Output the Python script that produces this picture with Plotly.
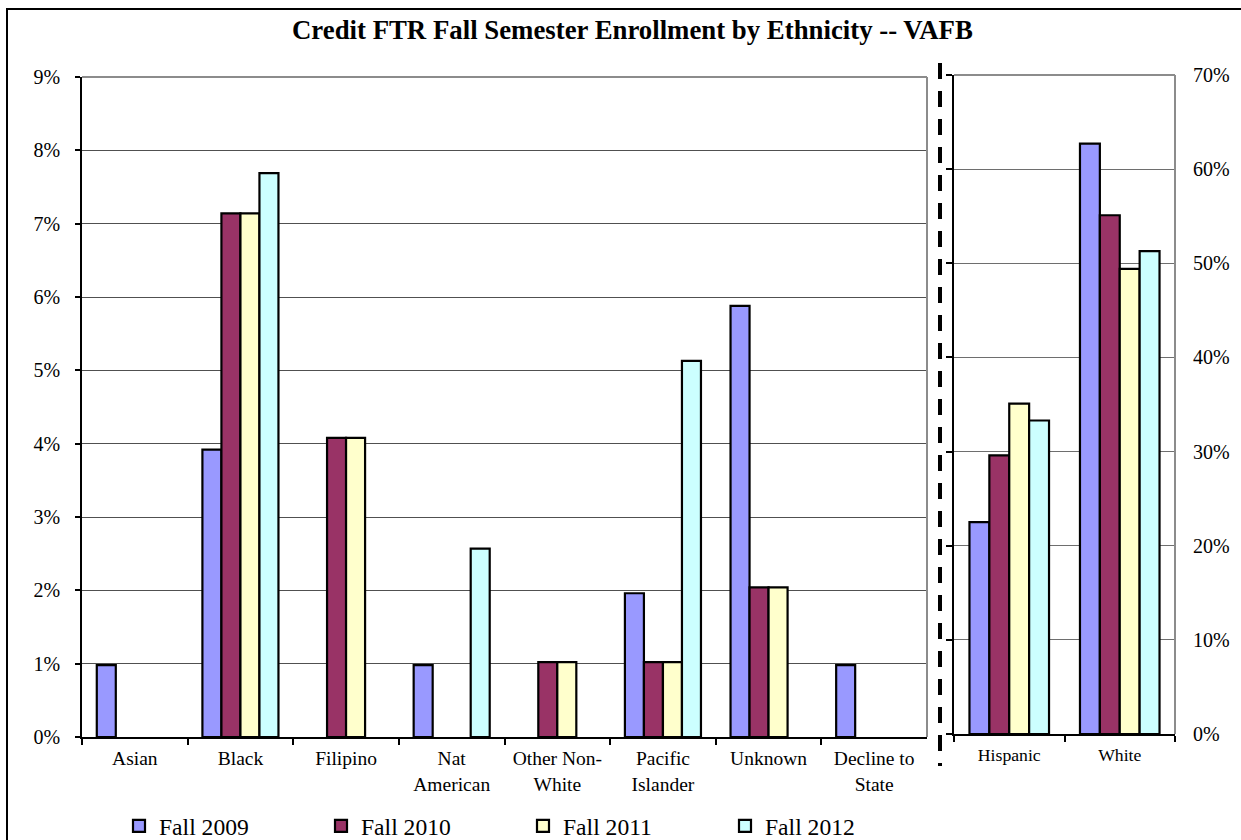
import plotly.graph_objects as go

W, H = 1241, 840          # reference picture size
FIG_H = 848               # figure height (capture is squeezed to 840 rows)

# ---------------- data ----------------
left_categories = ["Asian", "Black", "Filipino", "Nat<br>American", "Other Non-<br>White",
                   "Pacific<br>Islander", "Unknown", "Decline to<br>State"]
right_categories = ["Hispanic", "White"]
series_names = ["Fall 2009", "Fall 2010", "Fall 2011", "Fall 2012"]
series_colors = ["#9999FF", "#993366", "#FFFFCC", "#CCFFFF"]

fall_2009_left = [0.98, 3.92, None, 0.98, None, 1.96, 5.88, 0.98]
fall_2010_left = [None, 7.14, 4.08, None, 1.02, 1.02, 2.04, None]
fall_2011_left = [None, 7.14, 4.08, None, 1.02, 1.02, 2.04, None]
fall_2012_left = [None, 7.69, None, 2.57, None, 5.13, None, None]

fall_2009_right = [22.5, 62.7]
fall_2010_right = [29.6, 55.1]
fall_2011_right = [35.1, 49.4]
fall_2012_right = [33.3, 51.3]

left_tick_vals = [0, 1, 2, 3, 4, 5, 6, 7, 8, 9]
left_tick_text = ["0%", "1%", "2%", "3%", "4%", "5%", "6%", "7%", "8%", "9%"]
right_tick_vals = [0, 10, 20, 30, 40, 50, 60, 70]
right_tick_text = ["0%", "10%", "20%", "30%", "40%", "50%", "60%", "70%"]

title_text = "Credit FTR Fall Semester Enrollment by Ethnicity -- VAFB"

# ---------------- figure ----------------
SERIF = "Times New Roman, Liberation Serif, serif"
left_series = [fall_2009_left, fall_2010_left, fall_2011_left, fall_2012_left]
right_series = [fall_2009_right, fall_2010_right, fall_2011_right, fall_2012_right]

fig = go.Figure()
for name, color, lv, rv in zip(series_names, series_colors, left_series, right_series):
    mk = dict(color=color, line=dict(color="black", width=2.2))
    fig.add_trace(go.Bar(x=left_categories, y=lv, name=name, marker=mk,
                         legendgroup=name, xaxis="x", yaxis="y"))
    fig.add_trace(go.Bar(x=right_categories, y=rv, name=name, marker=mk,
                         legendgroup=name, showlegend=False, xaxis="x2", yaxis="y2"))

# invisible helper trace so the right-hand label axis is drawn
fig.add_trace(go.Scatter(x=right_categories, y=[None, None], xaxis="x2", yaxis="y3",
                         showlegend=False, hoverinfo="skip", mode="markers"))


def px(x):
    return x / W


def py(y):
    return 1 - y / H


grid_col = "#505050"
axis_common = dict(showline=True, linecolor="black", linewidth=1.5, zeroline=False,
                   ticks="outside", tickcolor="black", tickwidth=1.5)

fig.update_layout(
    width=W, height=FIG_H,
    margin=dict(l=0, r=0, t=0, b=0),
    paper_bgcolor="white", plot_bgcolor="white",
    font=dict(family=SERIF, color="black"),
    barmode="group", bargap=0.28, bargroupgap=0,
    showlegend=True,
    legend=dict(orientation="h", x=px(119), xanchor="left", y=py(826), yanchor="middle",
                entrywidth=157, entrywidthmode="pixels",
                font=dict(family=SERIF, size=23.6, color="black"),
                bgcolor="rgba(0,0,0,0)", traceorder="normal"),
    xaxis=dict(domain=[px(82), px(927)], anchor="y", type="category",
               categoryorder="array", categoryarray=left_categories,
               tickson="boundaries", ticklen=6, showgrid=False,
               tickfont=dict(family=SERIF, size=19.5, color="black"),
               ticklabelstandoff=3, automargin=False, **axis_common),
    yaxis=dict(domain=[py(737), py(77)], anchor="x", range=[0, 9],
               tickvals=left_tick_vals, ticktext=left_tick_text, ticklen=5,
               showgrid=True, gridcolor=grid_col, gridwidth=1,
               tickfont=dict(family=SERIF, size=20, color="black"),
               ticklabelstandoff=11, automargin=False, **axis_common),
    xaxis2=dict(domain=[px(954), px(1175)], anchor="y2", type="category",
                categoryorder="array", categoryarray=right_categories,
                tickson="boundaries", ticklen=6, showgrid=False,
                tickfont=dict(family=SERIF, size=17.7, color="black"),
                ticklabelstandoff=4, automargin=False, **axis_common),
    yaxis2=dict(domain=[py(734), py(75)], anchor="x2", range=[0, 70],
                tickvals=right_tick_vals, ticklen=6, showticklabels=False,
                showgrid=True, gridcolor="#6e6e6e", gridwidth=1,
                automargin=False, **axis_common),
    yaxis3=dict(overlaying="y2", anchor="x2", side="right", range=[0, 70],
                tickvals=right_tick_vals, ticktext=right_tick_text,
                showgrid=False, showline=False, zeroline=False, ticks="",
                tickfont=dict(family=SERIF, size=20, color="black"),
                ticklabelstandoff=17, automargin=False),
)

shapes = []
border_gray = "#8c8c8c"
for xr, yr in (("x domain", "y domain"), ("x2 domain", "y2 domain")):
    shapes.append(dict(type="line", xref=xr, yref=yr, x0=0, x1=1, y0=1, y1=1,
                       line=dict(color=border_gray, width=2), layer="above"))
    shapes.append(dict(type="line", xref=xr, yref=yr, x0=1, x1=1, y0=0, y1=1,
                       line=dict(color=border_gray, width=2), layer="above"))
# dashed separator
shapes.append(dict(type="line", xref="paper", yref="paper", x0=px(940), x1=px(940),
                   y0=py(63), y1=py(766), line=dict(color="black", width=4, dash="16px,12px")))
# outer frame
shapes.append(dict(type="rect", xref="paper", yref="paper", x0=px(7), x1=1.05,
                   y0=-0.05, y1=py(9), line=dict(color="black", width=2),
                   fillcolor="rgba(0,0,0,0)"))
fig.update_layout(shapes=shapes)

fig.add_annotation(text="<b>" + title_text + "</b>", xref="paper", yref="paper",
                   x=px(632), y=py(30), xanchor="center", yanchor="middle",
                   showarrow=False, font=dict(family=SERIF, size=26.8, color="black"))

fig.write_html(
    "out.html",
    config={"displayModeBar": False},
    post_script="document.body.style.margin='0';"
                "document.documentElement.style.overflow='hidden';"
                "document.body.style.overflow='hidden';",
)
